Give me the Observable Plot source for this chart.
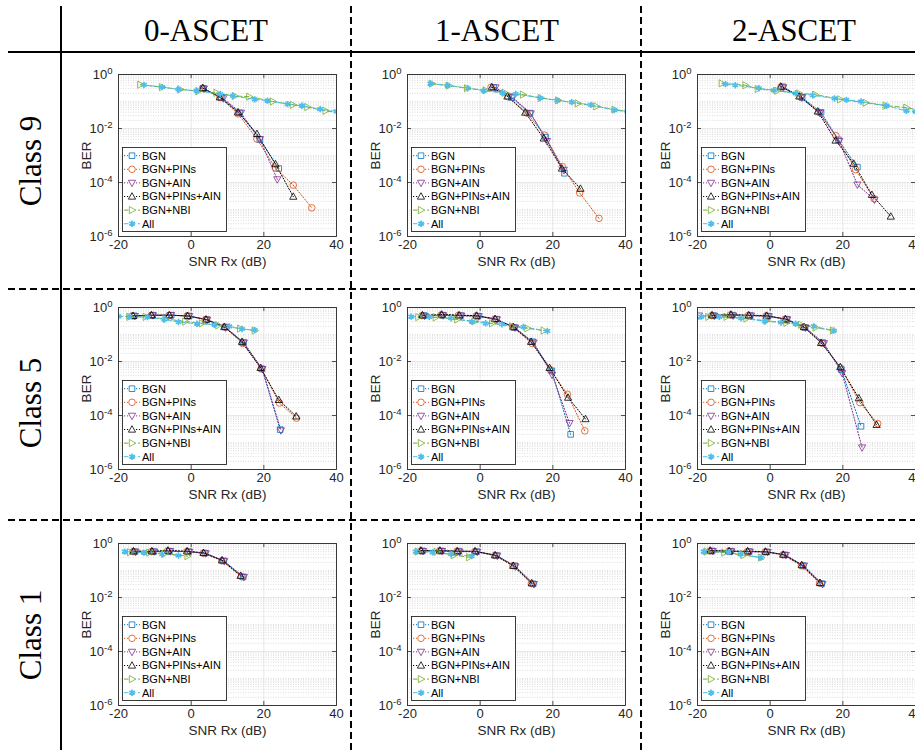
<!DOCTYPE html>
<html>
<head>
<meta charset="utf-8">
<script src="https://cdn.jsdelivr.net/npm/d3@7"></script>
<script src="https://cdn.jsdelivr.net/npm/@observablehq/plot@0.6"></script>
<style>
  html, body { margin: 0; padding: 0; background: #fff; }
  #page { position: relative; width: 915px; height: 750px; overflow: hidden; background: #fff; }
  #page svg { position: absolute; }
</style>
</head>
<body>
<div id="page"></div>
<script>
// ---------------- data ----------------
const columnLabels = ["0-ASCET", "1-ASCET", "2-ASCET"];
const rowLabels = ["Class 9", "Class 5", "Class 1"];
const seriesNames = ["BGN", "BGN+PINs", "BGN+AIN", "BGN+PINs+AIN", "BGN+NBI", "All"];
const xTicks = [-20, 0, 20, 40];
const yTicks = [1e-6, 1e-4, 1e-2, 1];
const xLabel = "SNR Rx (dB)";
const yLabel = "BER";

// each panel: [BGN, BGN+PINs, BGN+AIN, BGN+PINs+AIN, BGN+NBI, All] as [SNR, BER]
const class9_ascet0 = [
  [[3.4,0.30],[8.3,0.14],[13.3,0.038],[18.9,0.0039],[24.1,3.3e-4]],
  [[3.1,0.31],[7.9,0.14],[12.9,0.035],[18.1,0.0041],[23.2,3.4e-4],[28.1,8e-5],[33.2,1.15e-5]],
  [[3.5,0.30],[8.8,0.13],[13.7,0.038],[18.9,0.0040],[23.7,1.3e-4]],
  [[3.2,0.32],[7.9,0.144],[12.9,0.040],[18.1,0.0063],[23.2,4.8e-4],[28.1,3.0e-5]],
  [[-14,0.42],[-8,0.34],[-3,0.28],[2,0.24],[7,0.21],[12,0.16],[16,0.15],[22.5,0.10],[28,0.075],[32,0.062],[37,0.045],[42,0.037]],
  [[-13,0.41],[-8,0.34],[-3.5,0.28],[1.5,0.25],[8,0.19],[11.5,0.16],[17.5,0.12],[21,0.108],[26.5,0.08],[30.5,0.07],[35.5,0.052],[40,0.043]]
];
const class9_ascet1 = [
  [[3.7,0.33],[8.6,0.14],[13.7,0.037],[18.0,0.0048],[23.2,2.2e-4]],
  [[3.0,0.34],[7.7,0.15],[12.9,0.037],[17.7,0.0057],[22.6,3.9e-4],[27.4,4.1e-5],[32.7,4.7e-6]],
  [[4.2,0.33],[9.0,0.14],[13.9,0.036],[18.4,0.0034],[23.0,2.9e-4]],
  [[3.2,0.34],[7.5,0.155],[12.4,0.039],[17.5,0.0043],[22.5,3.3e-4],[27.6,5.9e-5]],
  [[-13.3,0.46],[-8.6,0.39],[-3.6,0.31],[1.5,0.26],[6.8,0.21],[11.8,0.18],[16.7,0.135],[21.5,0.11],[26.9,0.085],[32,0.066],[37,0.05],[42,0.04]],
  [[-13.7,0.46],[-9,0.39],[-3.4,0.31],[1,0.25],[6.1,0.21],[9.8,0.19],[16.5,0.135],[21.2,0.11],[25.2,0.095],[30.5,0.075],[36.9,0.048],[40.5,0.042]]
];
const class9_ascet2 = [
  [[3.5,0.35],[8.8,0.14],[14.0,0.040],[18.8,0.0038],[24.0,3.7e-4]],
  [[3.0,0.35],[8.3,0.15],[13.4,0.040],[18.1,0.0054],[23.5,3.0e-4],[28.6,2.5e-5]],
  [[3.6,0.33],[8.7,0.14],[13.7,0.037],[19.0,0.0034],[24.0,8.3e-5],[28.7,2.3e-5]],
  [[2.9,0.36],[8.0,0.155],[13.1,0.043],[18.0,0.0036],[23.0,5.0e-4],[28.0,3.5e-5],[33.2,5.5e-6]],
  [[-13.3,0.47],[-6.8,0.40],[-3.4,0.29],[2,0.25],[8,0.20],[12.4,0.18],[19.3,0.12],[26.3,0.09],[31.8,0.07],[37.5,0.059],[42,0.045]],
  [[-12.3,0.44],[-9.6,0.40],[-3.1,0.31],[1,0.26],[7,0.20],[11.7,0.17],[17.7,0.13],[21,0.115],[25,0.10],[32,0.07],[37.5,0.045],[40,0.042]]
];
const class5_ascet0 = [
  [[-15.7,0.49],[-10.6,0.52],[-5.5,0.52],[-0.6,0.48],[4.3,0.36],[9.4,0.19],[14.4,0.050],[19.5,0.0053],[24.5,3.0e-5]],
  [[-16.2,0.49],[-11,0.51],[-6.1,0.51],[-1.1,0.49],[4,0.36],[9.2,0.19],[14.1,0.047],[19.3,0.0055],[24.3,2.9e-4],[29,8e-5]],
  [[-15.5,0.48],[-10.5,0.51],[-5.6,0.52],[-0.6,0.48],[4.4,0.35],[9.5,0.18],[14.5,0.050],[19.6,0.0052],[24.7,2.8e-5]],
  [[-16,0.49],[-10.9,0.52],[-6,0.52],[-1,0.49],[4.1,0.36],[9.1,0.19],[14,0.054],[19.1,0.0058],[24.1,3.8e-4],[28.9,9.3e-5]],
  [[-17,0.45],[-12.5,0.45],[-7,0.38],[-1.6,0.30],[3,0.26],[7.5,0.22],[13.5,0.165],[17.5,0.14]],
  [[-20,0.47],[-17,0.46],[-12,0.44],[-7.4,0.36],[-3.5,0.29],[1.6,0.25],[6.4,0.23],[10.5,0.20],[14,0.16],[17.5,0.145]]
];
const class5_ascet1 = [
  [[-15.5,0.50],[-10.3,0.52],[-5.4,0.50],[-0.6,0.48],[4.5,0.37],[9.4,0.18],[14.4,0.054],[19.7,0.0045],[24.9,2.0e-5]],
  [[-16,0.50],[-10.8,0.53],[-6,0.51],[-1.1,0.49],[4,0.37],[9,0.19],[14.3,0.046],[19.3,0.0050],[24,6.1e-4],[28.8,2.7e-5]],
  [[-15.3,0.49],[-10.2,0.51],[-5.2,0.50],[-0.4,0.47],[4.6,0.36],[9.6,0.18],[14.7,0.050],[19.8,0.0032],[24.6,5.2e-5]],
  [[-15.9,0.52],[-10.6,0.55],[-5.8,0.52],[-1,0.50],[4.1,0.38],[9.1,0.19],[14,0.054],[19.1,0.0058],[24.2,4.6e-4],[29,7.4e-5]],
  [[-17,0.44],[-12.2,0.43],[-6.3,0.36],[-1.5,0.31],[3.3,0.26],[8.8,0.20],[13,0.17],[17.5,0.14]],
  [[-19,0.46],[-14,0.45],[-8,0.40],[-2.3,0.30],[1.5,0.26],[6,0.24],[11.9,0.19],[18.5,0.135]]
];
const class5_ascet2 = [
  [[-15.6,0.50],[-10.4,0.52],[-5.5,0.50],[-0.6,0.48],[4.6,0.37],[9.6,0.18],[14.5,0.050],[19.6,0.0050],[25,4.0e-5]],
  [[-16.1,0.50],[-11,0.53],[-6,0.51],[-1.1,0.49],[4.1,0.37],[9.1,0.19],[14.3,0.047],[19.4,0.0058],[24.7,3.0e-4],[29.6,5.0e-5]],
  [[-19.6,0.50],[-15.4,0.49],[-10.2,0.50],[-5.3,0.50],[-0.4,0.47],[4.7,0.36],[9.7,0.18],[14.8,0.047],[19.8,0.0037],[25.3,6.5e-6]],
  [[-16,0.52],[-10.8,0.55],[-5.9,0.52],[-1,0.50],[4.2,0.37],[9.3,0.19],[14,0.049],[19.3,0.0062],[24.4,4.4e-4],[29.3,4.5e-5]],
  [[-17,0.45],[-12,0.45],[-6.5,0.39],[-1,0.32],[4.5,0.27],[8.5,0.23],[12.5,0.18],[17.3,0.14]],
  [[-19,0.46],[-14,0.45],[-8,0.40],[-1.5,0.31],[3,0.28],[7,0.25],[12,0.20],[17.5,0.14]]
];
const class1_ascet0 = [
  [[-15.5,0.50],[-10.4,0.50],[-6,0.52],[-0.7,0.50],[3.8,0.44],[8.9,0.23],[14.3,0.058]],
  [[-16,0.50],[-11,0.50],[-6.5,0.53],[-1.2,0.50],[3.3,0.44],[8.4,0.23],[13.8,0.060]],
  [[-15.3,0.49],[-10.2,0.50],[-5.8,0.52],[-0.5,0.49],[4,0.43],[9.1,0.22],[14.5,0.057]],
  [[-15.9,0.52],[-10.8,0.52],[-6.4,0.55],[-1.1,0.52],[3.4,0.45],[8.5,0.24],[13.6,0.064]],
  [[-16.8,0.47],[-11.5,0.46],[-7.3,0.42],[-1,0.34]],
  [[-18.3,0.50],[-13,0.46],[-8,0.40],[-3.5,0.36]]
];
const class1_ascet1 = [
  [[-15.9,0.53],[-10.7,0.53],[-5.9,0.52],[-1,0.50],[4.5,0.36],[9.5,0.15],[14.6,0.032]],
  [[-16.4,0.53],[-11.2,0.53],[-6.4,0.52],[-1.5,0.50],[4,0.36],[9,0.15],[14.1,0.033]],
  [[-15.7,0.52],[-10.5,0.52],[-5.7,0.50],[-0.8,0.49],[4.7,0.35],[9.7,0.14],[14.8,0.031]],
  [[-16.3,0.55],[-11.1,0.55],[-6.3,0.52],[-1.4,0.52],[4.1,0.37],[9.1,0.15],[14.2,0.034]],
  [[-17.2,0.50],[-12,0.49],[-7.2,0.37],[-3,0.31]],
  [[-17.7,0.50],[-13.1,0.47],[-8,0.40],[-2.3,0.34]]
];
const class1_ascet2 = [
  [[-16,0.53],[-10.9,0.52],[-5.8,0.50],[-0.9,0.49],[4,0.38],[9.1,0.15],[14.2,0.033]],
  [[-16.6,0.53],[-11.4,0.52],[-6.3,0.50],[-1.4,0.49],[3.5,0.38],[8.6,0.15],[13.6,0.034]],
  [[-15.8,0.52],[-10.7,0.51],[-5.6,0.50],[-0.7,0.48],[4.3,0.37],[9.3,0.15],[14.4,0.031]],
  [[-16.5,0.55],[-11.3,0.52],[-6.2,0.52],[-1.3,0.50],[3.6,0.39],[8.7,0.16],[13.7,0.035]],
  [[-17.4,0.50],[-12.6,0.46],[-7.3,0.37],[-2.5,0.30]],
  [[-18.3,0.50],[-11.5,0.48],[-8.2,0.40],[-2.5,0.30]]
];
const panels = [
  [class9_ascet0, class9_ascet1, class9_ascet2],
  [class5_ascet0, class5_ascet1, class5_ascet2],
  [class1_ascet0, class1_ascet1, class1_ascet2]
];

// ---------------- styles ----------------
const seriesColors = ["#0072BD", "#D95319", "#7E2F8E", "#000000", "#77AC30", "#4DBEEE"];
const seriesDash = ["1.2,1.8", "1.2,1.8", "1.2,1.8", "1.2,1.8", "4.5,2.5", "4.5,2.5"];
const sq = {draw(c, size) { const t = Math.sqrt(size / Math.PI) * 0.85; c.rect(-t, -t, 2 * t, 2 * t); }};
const triUp = {draw(c, size) { const t = Math.sqrt(size / Math.PI) * 1.15; c.moveTo(0, -t); c.lineTo(t * 0.95, t * 0.7); c.lineTo(-t * 0.95, t * 0.7); c.closePath(); }};
const triDown = {draw(c, size) { const t = Math.sqrt(size / Math.PI) * 1.15; c.moveTo(0, t); c.lineTo(t * 0.95, -t * 0.7); c.lineTo(-t * 0.95, -t * 0.7); c.closePath(); }};
const triRight = {draw(c, size) { const t = Math.sqrt(size / Math.PI) * 1.15; c.moveTo(t, 0); c.lineTo(-t * 0.7, -t * 0.95); c.lineTo(-t * 0.7, t * 0.95); c.closePath(); }};
const seriesSymbols = [sq, d3.symbolCircle, triDown, triUp, triRight, d3.symbolAsterisk];
const seriesR = [3.3, 3.3, 3.3, 3.3, 3.3, 3.0];
const seriesMarkW = [0.8, 0.8, 0.8, 0.8, 0.8, 1.7];

const plotLefts = [118, 407, 697];
const plotTops = [74, 307, 543];
const plotW = 218, plotH = 162;
const ML = 60, MR = 12, MT = 12, MB = 40;
const sansFont = "'Liberation Sans', Arial, Helvetica, sans-serif";
const serifFont = "'Liberation Serif', 'Times New Roman', serif";

const page = d3.select("#page");

// ---------------- table frame ----------------
const table = page.append("svg").attr("width", 915).attr("height", 750).style("left", "0px").style("top", "0px");
table.append("line").attr("x1", 61).attr("x2", 61).attr("y1", 6).attr("y2", 750).attr("stroke", "#000").attr("stroke-width", 2);
table.append("line").attr("x1", 8).attr("x2", 915).attr("y1", 52).attr("y2", 52).attr("stroke", "#000").attr("stroke-width", 2);
[351, 641].forEach(x => table.append("line").attr("x1", x).attr("x2", x).attr("y1", 6).attr("y2", 750)
  .attr("stroke", "#000").attr("stroke-width", 2).attr("stroke-dasharray", "7,4"));
[289, 520].forEach(y => table.append("line").attr("x1", 8).attr("x2", 915).attr("y1", y).attr("y2", y)
  .attr("stroke", "#000").attr("stroke-width", 2).attr("stroke-dasharray", "7,4"));
const headerX = [206, 497, 794];
columnLabels.forEach((t, i) => table.append("text").attr("x", headerX[i]).attr("y", 41)
  .attr("text-anchor", "middle").style("font-family", serifFont).style("font-size", "31px").attr("fill", "#000").text(t));
const rowCenters = [161, 403, 635];
rowLabels.forEach((t, i) => table.append("text").attr("transform", `translate(41,${rowCenters[i]}) rotate(-90)`)
  .attr("text-anchor", "middle").style("font-family", serifFont).style("font-size", "31px").attr("fill", "#000").text(t));

// ---------------- panels ----------------
const majorY = yTicks;
const minorY = [];
for (let k = -6; k < 0; k++) for (let m = 1; m <= 9; m++) {
  if (m === 1 && k % 2 === 0) continue;
  minorY.push(m * Math.pow(10, k));
}
const gridX = [0, 20];
const tickLenDec = 0.15, tickLenX = 1.1;

function makePanel(panel) {
  const marks = [
    Plot.ruleY(minorY, {stroke: "#bbbbbb", strokeWidth: 0.5, strokeDasharray: "1,1.5"}),
    Plot.ruleY(majorY, {stroke: "#dedede", strokeWidth: 0.7}),
    Plot.ruleX(gridX, {stroke: "#dedede", strokeWidth: 0.7})
  ];
  panel.forEach((pts, i) => {
    const rows = pts.map(([x, y]) => ({x, y}));
    marks.push(Plot.line(rows, {x: "x", y: "y", stroke: seriesColors[i], strokeWidth: 1,
      strokeDasharray: seriesDash[i], clip: true}));
  });
  panel.forEach((pts, i) => {
    const rows = pts.map(([x, y]) => ({x, y}));
    marks.push(Plot.dot(rows, {x: "x", y: "y", symbol: () => seriesSymbols[i], r: seriesR[i],
      stroke: seriesColors[i], strokeWidth: seriesMarkW[i], fill: i === 5 ? seriesColors[i] : "none", clip: true}));
  });
  // inner ticks (MATLAB style box)
  marks.push(
    Plot.ruleX(gridX, {y1: yTicks[0], y2: yTicks[0] * Math.pow(10, tickLenDec), stroke: "#262626", strokeWidth: 0.8}),
    Plot.ruleX(gridX, {y1: yTicks[3], y2: yTicks[3] / Math.pow(10, tickLenDec), stroke: "#262626", strokeWidth: 0.8}),
    Plot.ruleY(yTicks.slice(1, 3), {x1: xTicks[0], x2: xTicks[0] + tickLenX, stroke: "#262626", strokeWidth: 0.8}),
    Plot.ruleY(yTicks.slice(1, 3), {x1: xTicks[3], x2: xTicks[3] - tickLenX, stroke: "#262626", strokeWidth: 0.8}),
    Plot.frame({stroke: "#262626", strokeWidth: 0.9}),
    Plot.axisX({ticks: xTicks, tickSize: 0, tickPadding: 3, tickFormat: d => String(d), fontSize: 13,
      label: xLabel, labelAnchor: "center", labelOffset: 29, labelArrow: "none"}),
    Plot.axisY({ticks: yTicks, tickSize: 0, tickPadding: 6, tickFormat: d => "10^" + Math.round(Math.log10(d)), fontSize: 13,
      label: yLabel, labelAnchor: "center", labelOffset: 37, labelArrow: "none"})
  );
  const svg = Plot.plot({
    width: ML + plotW + MR, height: MT + plotH + MB,
    marginLeft: ML, marginRight: MR, marginTop: MT, marginBottom: MB,
    x: {type: "linear", domain: [xTicks[0], xTicks[3]]},
    y: {type: "log", domain: [yTicks[0], yTicks[3]]},
    style: {fontFamily: sansFont, fontSize: "13px", color: "#262626", background: "transparent", overflow: "visible"},
    marks
  });
  d3.select(svg).selectAll('g[aria-label="x-axis label"] text, g[aria-label="y-axis label"] text')
    .style("font-size", "13.5px");
  // superscript exponents on y tick labels
  d3.select(svg).selectAll('g[aria-label="y-axis tick label"] text').each(function () {
    const t = this.textContent;
    const exp = t.split("^")[1];
    const sel = d3.select(this);
    sel.text("");
    sel.append("tspan").text("10");
    sel.append("tspan").attr("dy", "-0.45em").style("font-size", "9.5px").text(exp);
  });
  return svg;
}

function makeLegend(left, top) {
  const lg = page.append("svg").attr("width", 106).attr("height", 86)
    .style("left", left + "px").style("top", top + "px");
  lg.append("rect").attr("x", 0.5).attr("y", 0.5).attr("width", 104).attr("height", 84)
    .attr("fill", "#fff").attr("stroke", "#262626").attr("stroke-width", 0.9);
  seriesNames.forEach((name, i) => {
    const cy = 8.7 + i * 13.6;
    lg.append("line").attr("x1", 2).attr("x2", 18).attr("y1", cy).attr("y2", cy)
      .attr("stroke", seriesColors[i]).attr("stroke-width", 1).attr("stroke-dasharray", seriesDash[i]);
    const r = seriesR[i];
    lg.append("path").attr("d", d3.symbol(seriesSymbols[i], r * r * Math.PI)())
      .attr("transform", `translate(10,${cy})`)
      .attr("stroke", seriesColors[i]).attr("stroke-width", seriesMarkW[i])
      .attr("fill", i === 5 ? seriesColors[i] : "#fff");
    lg.append("text").attr("x", 20).attr("y", cy).attr("dy", "0.36em")
      .style("font-family", sansFont).style("font-size", "11px").attr("fill", "#000").text(name);
  });
}

panels.forEach((row, r) => row.forEach((panel, c) => {
  const svg = makePanel(panel);
  svg.style.position = "absolute";
  svg.style.left = (plotLefts[c] - ML) + "px";
  svg.style.top = (plotTops[r] - MT) + "px";
  document.getElementById("page").appendChild(svg);
  makeLegend(plotLefts[c] + 4, plotTops[r] + plotH - 5 - 84);
}));
</script>
</body>
</html>
